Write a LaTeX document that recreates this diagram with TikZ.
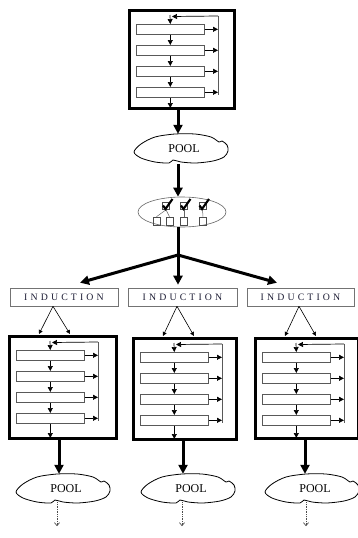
\documentclass[tikz,border=0pt]{standalone}
\usepackage{fontspec}
\setmainfont{Liberation Serif}
\newfontfamily\spacedfont[LetterSpace=32]{Liberation Serif}
\usetikzlibrary{arrows.meta,calc,shapes.geometric}

\definecolor{inkblue}{HTML}{1C1C34}

\tikzset{
  outerbox/.style={draw=black, line width=3pt, inner sep=0pt},
  stagebox/.style={draw=black!65, line width=0.6pt, minimum width=68pt,
    minimum height=10pt, inner sep=0pt},
  thinarrow/.style={line width=0.7pt, -{Triangle[length=5pt,width=5pt]}},
  railline/.style={draw=black!65, line width=0.7pt},
  bigarrow/.style={line width=3pt, -{Triangle[length=9pt,width=9pt]}},
  bigline/.style={line width=3pt},
  fanarrow/.style={line width=0.6pt, -{Triangle[length=4pt,width=4pt]}},
  indbox/.style={draw=black!55, line width=0.6pt, minimum height=18pt,
    inner sep=0pt, text=inkblue, font=\spacedfont\fontsize{9.8}{10}\selectfont},
  poolnode/.style={minimum width=92pt, minimum height=30pt, inner sep=0pt,
    font=\fontsize{12}{12}\selectfont},
  cloudline/.style={draw=black, line width=0.8pt},
  selnode/.style={ellipse, draw=black!60, line width=0.6pt,
    minimum width=88pt, minimum height=30pt, inner sep=0pt},
  tickbox/.style={draw=black!70, line width=0.6pt, minimum width=7pt,
    minimum height=7pt, inner sep=0pt},
  optbox/.style={draw=black!70, line width=0.6pt, minimum width=7pt,
    minimum height=8pt, inner sep=0pt},
  tickmark/.style={line width=2.1pt, line join=miter},
  linkline/.style={draw=black!60, line width=0.5pt},
  dotarrow/.style={densely dotted, line width=0.7pt, draw=black!70,
    -{Straight Barb[length=3pt,width=5pt]}},
}

% Process unit: #1 name, #2 left, #3 top, #4 width, #5 height
\newcommand{\procunit}[5]{%
  \node[outerbox, anchor=north west, minimum width=#4pt, minimum height=#5pt] (#1) at (#2,#3) {};
  \foreach \k/\dy in {1/15,2/36,3/57,4/78}{
    \node[stagebox, anchor=north west] (#1-s\k) at ($(#1.north west)+(8,\dy)$) {};
  }
  \coordinate (#1-ctop) at ($(#1.north west)+(42,6)$);
  \coordinate (#1-rtop) at ($(#1.north west)+(90,7)$);
  \coordinate (#1-rbot) at ($(#1.north west)+(90,86)$);
  \coordinate (#1-feed) at ($(#1.north west)+(45,0)$);
  \coordinate (#1-inL) at ($(#1.north west)+(31,-1)$);
  \coordinate (#1-inR) at ($(#1.north west)+(62,-1)$);
  \coordinate (#1-exit) at ($(#1.north west)+(51,0)$);
  \coordinate (#1-end) at ($(#1-s4.south |- #1.south)+(0,-2)$);
  % feedback rail on the right
  \draw[railline] (#1-rtop) -- (#1-rbot);
  \draw[thinarrow] (#1-rtop) -- ($(#1-ctop)+(2,1.5)$);
  \draw[thinarrow] (#1-ctop) -- (#1-s1.north);
  \foreach \k/\j in {1/2,2/3,3/4}{
    \draw[thinarrow] (#1-s\k.south) -- (#1-s\j.north);
  }
  \draw[thinarrow] (#1-s4.south) -- (#1-end);
  \foreach \k in {1,2,3,4}{
    \draw[thinarrow] (#1-s\k.east) -- (#1-s\k.east -| #1-rtop);
  }
}

% Cloud outline around a pool node (#1)
\newcommand{\cloudoutline}[1]{%
  \begin{scope}[shift={($(#1.center)+(-3,0)$)}]
    \draw[cloudline] plot[smooth cycle, tension=0.5] coordinates {
      (-47,3) (-40,-5) (-26,-12) (-6,-15) (14,-15) (30,-12) (38,-7)
      (41,-8) (46,-4) (47,2) (43,8) (32,12) (15,14) (0,13) (-8,11)
      (-12,14) (-26,13) (-40,9)};
  \end{scope}
}

\begin{document}
\begin{tikzpicture}[x=1pt, y=-1pt]
  \useasboundingbox (0,0) rectangle (357,538);
  \coordinate (spine) at (178,0);

  % top process unit
  \procunit{top}{128}{9}{105}{98}

  % first pool
  \node[poolnode] (p0) at (184,149) {POOL};
  \cloudoutline{p0}

  % selection ellipse with ticked boxes
  \node[selnode] (sel) at (182,212) {};
  \node[tickbox] (ck1) at (166,206) {};
  \node[tickbox] (ck2) at (184,206) {};
  \node[tickbox] (ck3) at (202.5,206) {};
  \node[optbox] (b1) at (156.5,221) {};
  \node[optbox] (b2) at (169.5,221) {};
  \node[optbox] (b3) at (184,221) {};
  \node[optbox] (b4) at (203,221) {};
  \draw[linkline] (ck1.south) -- (b1.north);
  \draw[linkline] (ck1.south) -- (b2.north);
  \draw[linkline] (ck2.south) -- (b3.north);
  \draw[linkline] (ck3.south) -- (b4.north);
  \foreach \c in {ck1,ck2,ck3}{
    \draw[tickmark] ($(\c.center)+(-3,-0.5)$) -- ($(\c.center)+(-0.5,3)$) -- ($(\c.center)+(6.5,-7)$);
  }

  % trunk
  \draw[bigarrow] (top.south -| spine) -- (p0.north -| spine);
  \draw[bigarrow] (p0.south -| spine) -- (sel.north -| spine);
  \coordinate (jn) at (178,255);
  \draw[bigline] (sel.south -| spine) -- (jn);

  % induction boxes
  \node[indbox, minimum width=108pt] (ind1) at (64,297) {INDUCTION};
  \node[indbox, minimum width=109pt] (ind2) at (182.5,297) {INDUCTION};
  \node[indbox, minimum width=107pt] (ind3) at (300.5,297) {INDUCTION};

  \draw[bigarrow] (jn) -- ($(ind1.north)+(16,-5)$);
  \draw[bigarrow] (jn) -- ($(ind2.north -| jn)+(0,-3)$);
  \draw[bigarrow] (jn) -- ($(ind3.north)+(-23.5,-5)$);

  % lower process units
  \procunit{ua}{8}{335}{107}{102}
  \procunit{ub}{132}{337}{103}{101}
  \procunit{uc}{254}{337}{103}{100}

  \foreach \i/\u in {ind1/ua,ind2/ub,ind3/uc}{
    \draw[fanarrow] (\i.south -| \u-feed) -- (\u-inL);
    \draw[fanarrow] (\i.south -| \u-feed) -- (\u-inR);
  }

  % lower pools
  \node[poolnode] (pa) at (66,489) {POOL};
  \node[poolnode] (pb) at (191,489) {POOL};
  \node[poolnode] (pc) at (315,489) {POOL};
  \cloudoutline{pa}
  \cloudoutline{pb}
  \cloudoutline{pc}

  \foreach \u/\p in {ua/pa,ub/pb,uc/pc}{
    \draw[bigarrow] (\u-exit |- \u.south) -- (\p.north -| \u-exit);
    \coordinate (\p-next) at ($(\p.south)+(-9,22)$);
    \draw[dotarrow] ($(\p.south)+(-9,-2)$) -- (\p-next);
  }
\end{tikzpicture}
\end{document}
